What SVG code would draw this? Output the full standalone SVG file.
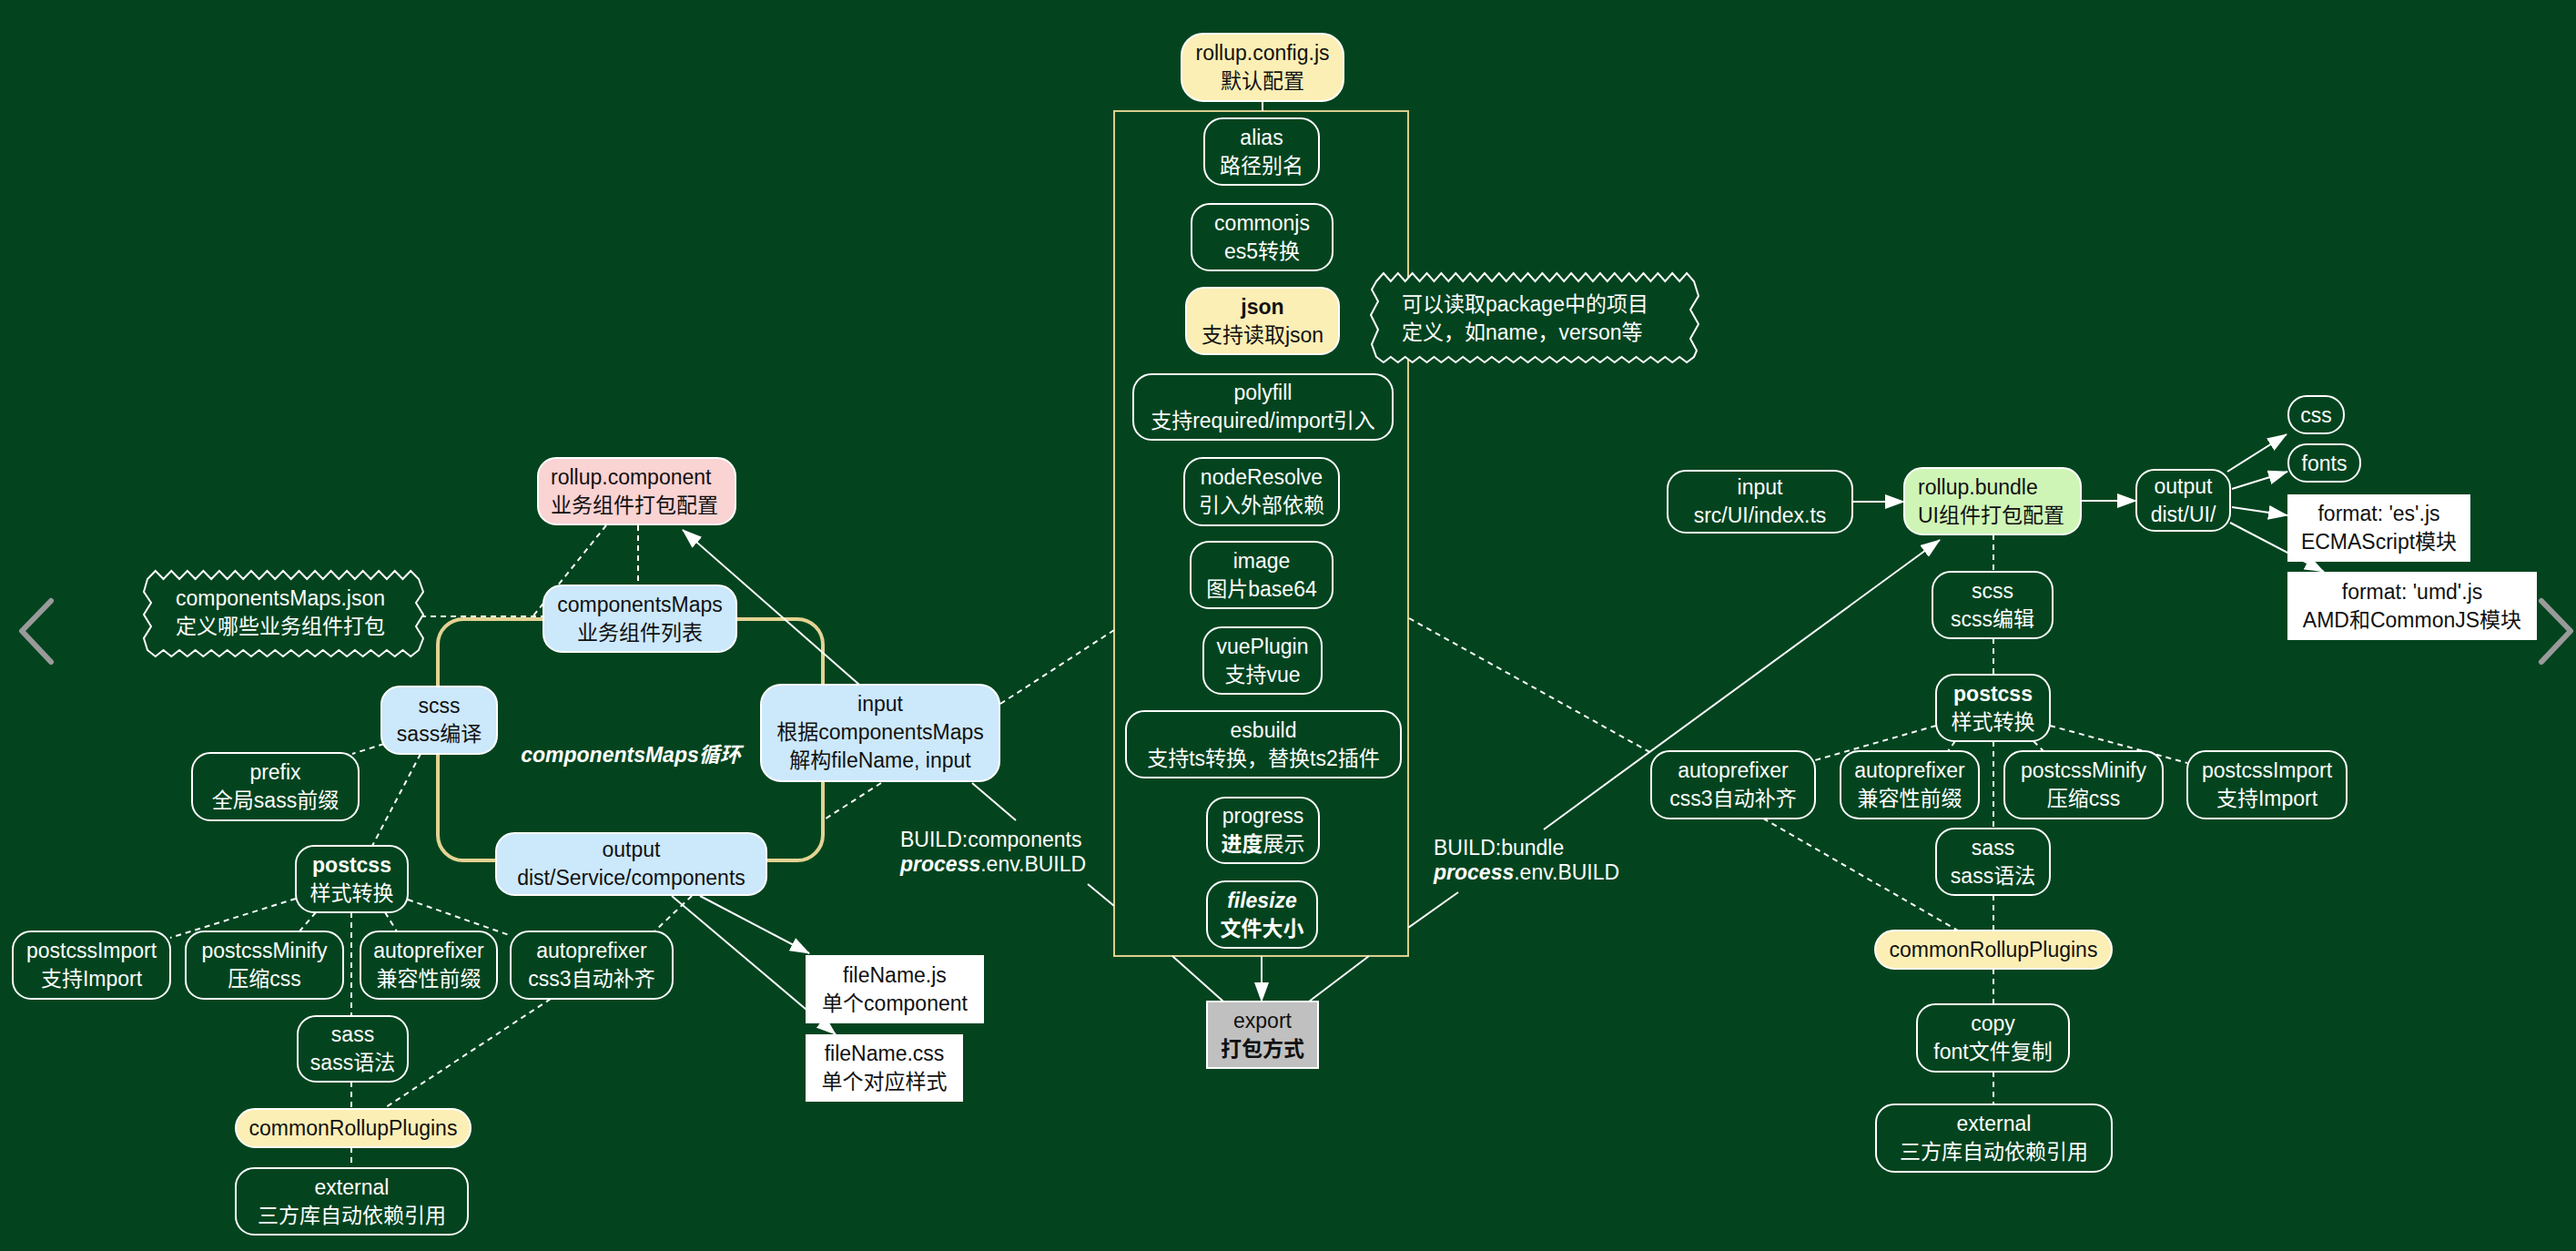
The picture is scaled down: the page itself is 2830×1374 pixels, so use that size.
<svg xmlns="http://www.w3.org/2000/svg" width="2830" height="1374" viewBox="0 0 2830 1374">
<defs>
<style>
text{font-family:"Liberation Sans","Noto Sans CJK SC",sans-serif;font-size:23px;text-anchor:middle}
.t{fill:#fff}
.k{fill:#111}
.st{text-anchor:start}
.bo{font-weight:bold}
.bi{font-weight:bold;font-style:italic}
.n{fill:#03441f;stroke:#fff;stroke-width:2}
.b{fill:#cce8fb;stroke:#fff;stroke-width:2}
.y{fill:#fbefb5;stroke:#fff;stroke-width:2}
.p{fill:#fad3d3;stroke:#fff;stroke-width:2}
.g{fill:#cff5b6;stroke:#fff;stroke-width:2}
.w{fill:#fff}
.gr{fill:#c0c0c0;stroke:#fff;stroke-width:2}
.s{stroke:#fff;stroke-width:2;fill:none}
.d{stroke:#fff;stroke-width:2;fill:none;stroke-dasharray:6 5}
.ar{marker-end:url(#ah)}
</style>
<marker id="ah" markerUnits="userSpaceOnUse" markerWidth="22" markerHeight="16" refX="21" refY="8" orient="auto"><path d="M0,0 L22,8 L0,16 z" fill="#fff"/></marker>
</defs>
<rect x="0" y="0" width="2830" height="1374" fill="#03441f"/>
<polyline points="56,660 24,693 56,727" fill="none" stroke="#9a9a9a" stroke-width="6" stroke-linecap="round" stroke-linejoin="round"/>
<polyline points="2792,660 2824,693 2792,727" fill="none" stroke="#9a9a9a" stroke-width="6" stroke-linecap="round" stroke-linejoin="round"/>
<g id="groups">
<rect x="481" y="680" width="423" height="265" rx="28" fill="none" stroke="#e3d393" stroke-width="4"/>
<rect x="1224" y="122" width="323" height="928" fill="none" stroke="#d9cf8f" stroke-width="2"/>
<text class="t bi" x="693" y="837">componentsMaps循环</text>
</g>
<g id="connectors">
<path class="s" d="M1387,111 V122"/>
<path class="s ar" d="M944,752 L750,582"/>
<path class="s" d="M1068,860 L1116,901 M1195,971 L1224,995"/>
<path class="s ar" d="M769,984 L889,1047"/>
<path class="s ar" d="M738,984 L918,1136"/>
<path class="s ar" d="M1386,1050 V1100"/>
<path class="s" d="M1288,1050 L1344,1100 M1504,1050 L1438,1100"/>
<path class="s" d="M1547,1019 L1602,980"/>
<path class="s ar" d="M1696,911 L2131,593"/>
<path class="s ar" d="M2035,551 H2092"/>
<path class="s ar" d="M2286,550 H2347"/>
<path class="s ar" d="M2447,518 L2512,477"/>
<path class="s ar" d="M2452,537 L2513,518"/>
<path class="s ar" d="M2452,557 L2513,566"/>
<path class="s ar" d="M2450,574 L2553,628"/>
<path class="d" d="M701,577 V643"/>
<path class="d" d="M666,577 L583,680"/>
<path class="d" d="M462,677 H597"/>
<path class="d" d="M1099,773 L1224,692"/>
<path class="d" d="M968,860 L904,901"/>
<path class="d" d="M760,984 L719,1023"/>
<path class="d" d="M422,817 L387,828"/>
<path class="d" d="M462,828 L409,929"/>
<path class="d" d="M325,987 L187,1030 M347,1002 L329,1023 M423,1002 L436,1023 M448,988 L562,1028"/>
<path class="d" d="M386,1002 V1116 M386,1188 V1218 M386,1260 V1283"/>
<path class="d" d="M605,1097 L421,1218"/>
<path class="d" d="M1548,679 L1816,828"/>
<path class="d" d="M2190,587 V628 M2190,701 V741 M2190,814 V910 M2190,983 V1022 M2190,1064 V1103 M2190,1177 V1213"/>
<path class="d" d="M2127,797 L1994,835 M2148,814 L2140,825 M2234,814 L2245,825 M2252,797 L2403,838"/>
<path class="d" d="M1937,899 L2151,1022"/>
</g>
<g id="label-build-components">
<text class="t st" x="989" y="930">BUILD:components</text>
<text class="t st" x="989" y="957"><tspan class="bi">process</tspan>.env.BUILD</text>
</g>
<g id="label-build-bundle">
<text class="t st" x="1575" y="939">BUILD:bundle</text>
<text class="t st" x="1575" y="966"><tspan class="bi">process</tspan>.env.BUILD</text>
</g>
<g id="rollup-component"><rect class="p" x="591" y="503" width="217" height="73" rx="20"/><text class="k st" x="605" y="531.5">rollup.component</text><text class="k st" x="605" y="562.5">业务组件打包配置</text></g>
<g id="componentsMaps-json"><path fill="#03441f" stroke="#fff" stroke-width="2" d="M162,636 l8.765,-9 l8.765,9 l8.765,-9 l8.765,9 l8.765,-9 l8.765,9 l8.765,-9 l8.765,9 l8.765,-9 l8.765,9 l8.765,-9 l8.765,9 l8.765,-9 l8.765,9 l8.765,-9 l8.765,9 l8.765,-9 l8.765,9 l8.765,-9 l8.765,9 l8.765,-9 l8.765,9 l8.765,-9 l8.765,9 l8.765,-9 l8.765,9 l8.765,-9 l8.765,9 l8.765,-9 l8.765,9 l8.765,-9 l8.765,9 l8.765,-9 l8.765,9 L465,650 L457,662 L465,675 L457,688 L465,701 L460,714 l-8.765,7 l-8.765,-7 l-8.765,7 l-8.765,-7 l-8.765,7 l-8.765,-7 l-8.765,7 l-8.765,-7 l-8.765,7 l-8.765,-7 l-8.765,7 l-8.765,-7 l-8.765,7 l-8.765,-7 l-8.765,7 l-8.765,-7 l-8.765,7 l-8.765,-7 l-8.765,7 l-8.765,-7 l-8.765,7 l-8.765,-7 l-8.765,7 l-8.765,-7 l-8.765,7 l-8.765,-7 l-8.765,7 l-8.765,-7 l-8.765,7 l-8.765,-7 l-8.765,7 l-8.765,-7 l-8.765,7 l-8.765,-7 L158,701 L166,688 L158,675 L166,662 L158,650 Z"/><text class="t" x="308" y="665">componentsMaps.json</text><text class="t" x="308" y="696">定义哪些业务组件打包</text></g>
<g id="componentsMaps"><rect class="b" x="597" y="643" width="212" height="73" rx="20"/><text class="k" x="703" y="671.5">componentsMaps</text><text class="k" x="703" y="702.5">业务组件列表</text></g>
<g id="scss-left"><rect class="b" x="419" y="754" width="127" height="74" rx="20"/><text class="k" x="482.5" y="783">scss</text><text class="k" x="482.5" y="814">sass编译</text></g>
<g id="prefix"><rect class="n" x="211" y="827" width="183" height="74" rx="20"/><text class="t" x="302.5" y="856">prefix</text><text class="t" x="302.5" y="887">全局sass前缀</text></g>
<g id="input-left"><rect class="b" x="836" y="752" width="262" height="106" rx="22"/><text class="k" x="967" y="781">input</text><text class="k" x="967" y="812">根据componentsMaps</text><text class="k" x="967" y="843">解构fileName, input</text></g>
<g id="output-left"><rect class="b" x="545" y="915" width="297" height="68" rx="20"/><text class="k" x="693.5" y="941">output</text><text class="k" x="693.5" y="972">dist/Service/components</text></g>
<g id="postcss-left"><rect class="n" x="325" y="929" width="123" height="73" rx="20"/><text class="t bo" x="386.5" y="957.5">postcss</text><text class="t" x="386.5" y="988.5">样式转换</text></g>
<g id="postcssImport-left"><rect class="n" x="14" y="1023" width="173" height="74" rx="20"/><text class="t" x="100.5" y="1052">postcssImport</text><text class="t" x="100.5" y="1083">支持Import</text></g>
<g id="postcssMinify-left"><rect class="n" x="204" y="1023" width="173" height="74" rx="20"/><text class="t" x="290.5" y="1052">postcssMinify</text><text class="t" x="290.5" y="1083">压缩css</text></g>
<g id="autoprefixer-compat-left"><rect class="n" x="396" y="1023" width="150" height="74" rx="20"/><text class="t" x="471" y="1052">autoprefixer</text><text class="t" x="471" y="1083">兼容性前缀</text></g>
<g id="autoprefixer-css3-left"><rect class="n" x="561" y="1023" width="178" height="74" rx="20"/><text class="t" x="650" y="1052">autoprefixer</text><text class="t" x="650" y="1083">css3自动补齐</text></g>
<g id="sass-left"><rect class="n" x="327" y="1116" width="121" height="72" rx="20"/><text class="t" x="387.5" y="1144">sass</text><text class="t" x="387.5" y="1175">sass语法</text></g>
<g id="commonRollupPlugins-left"><rect class="y" x="259" y="1218" width="258" height="42" rx="21"/><text class="k" x="388" y="1247">commonRollupPlugins</text></g>
<g id="external-left"><rect class="n" x="259" y="1283" width="255" height="73" rx="20"/><text class="t" x="386.5" y="1311.5">external</text><text class="t" x="386.5" y="1342.5">三方库自动依赖引用</text></g>
<g id="fileName-js"><rect class="w" x="885" y="1049" width="196" height="75"/><text class="k" x="983" y="1078.5">fileName.js</text><text class="k" x="983" y="1109.5">单个component</text></g>
<g id="fileName-css"><rect class="w" x="885" y="1136" width="173" height="74"/><text class="k" x="971.5" y="1165">fileName.css</text><text class="k" x="971.5" y="1196">单个对应样式</text></g>
<g id="rollup-config"><rect class="y" x="1298" y="37" width="178" height="74" rx="24"/><text class="k" x="1387" y="66">rollup.config.js</text><text class="k" x="1387" y="97">默认配置</text></g>
<g id="alias"><rect class="n" x="1323" y="130" width="126" height="73" rx="20"/><text class="t" x="1386" y="158.5">alias</text><text class="t" x="1386" y="189.5">路径别名</text></g>
<g id="commonjs"><rect class="n" x="1309" y="224" width="155" height="73" rx="20"/><text class="t" x="1386.5" y="252.5">commonjs</text><text class="t" x="1386.5" y="283.5">es5转换</text></g>
<g id="json"><rect class="y" x="1303" y="316" width="168" height="73" rx="20"/><text class="k bo" x="1387" y="344.5">json</text><text class="k" x="1387" y="375.5">支持读取json</text></g>
<g id="json-note"><path fill="#03441f" stroke="#fff" stroke-width="2" d="M1512,309 l7.932,-9 l7.932,9 l7.932,-9 l7.932,9 l7.932,-9 l7.932,9 l7.932,-9 l7.932,9 l7.932,-9 l7.932,9 l7.932,-9 l7.932,9 l7.932,-9 l7.932,9 l7.932,-9 l7.932,9 l7.932,-9 l7.932,9 l7.932,-9 l7.932,9 l7.932,-9 l7.932,9 l7.932,-9 l7.932,9 l7.932,-9 l7.932,9 l7.932,-9 l7.932,9 l7.932,-9 l7.932,9 l7.932,-9 l7.932,9 l7.932,-9 l7.932,9 l7.932,-9 l7.932,9 l7.932,-9 l7.932,9 l7.932,-9 l7.932,9 l7.932,-9 l7.932,9 l7.932,-9 l7.932,9 L1866,325 L1857,340 L1866,356 L1857,372 L1864,385 L1861,392 l-7.932,6 l-7.932,-6 l-7.932,6 l-7.932,-6 l-7.932,6 l-7.932,-6 l-7.932,6 l-7.932,-6 l-7.932,6 l-7.932,-6 l-7.932,6 l-7.932,-6 l-7.932,6 l-7.932,-6 l-7.932,6 l-7.932,-6 l-7.932,6 l-7.932,-6 l-7.932,6 l-7.932,-6 l-7.932,6 l-7.932,-6 l-7.932,6 l-7.932,-6 l-7.932,6 l-7.932,-6 l-7.932,6 l-7.932,-6 l-7.932,6 l-7.932,-6 l-7.932,6 l-7.932,-6 l-7.932,6 l-7.932,-6 l-7.932,6 l-7.932,-6 l-7.932,6 l-7.932,-6 l-7.932,6 l-7.932,-6 l-7.932,6 l-7.932,-6 l-7.932,6 l-7.932,-6 L1507,378 L1514,362 L1506,346 L1514,331 L1507,318 Z"/><text class="t st" x="1540" y="342">可以读取package中的项目</text><text class="t st" x="1540" y="373">定义，如name，verson等</text></g>
<g id="polyfill"><rect class="n" x="1245" y="411" width="285" height="72" rx="20"/><text class="t" x="1387.5" y="439">polyfill</text><text class="t" x="1387.5" y="470">支持required/import引入</text></g>
<g id="nodeResolve"><rect class="n" x="1301" y="503" width="170" height="74" rx="20"/><text class="t" x="1386" y="532">nodeResolve</text><text class="t" x="1386" y="563">引入外部依赖</text></g>
<g id="image"><rect class="n" x="1308" y="595" width="156" height="73" rx="20"/><text class="t" x="1386" y="623.5">image</text><text class="t" x="1386" y="654.5">图片base64</text></g>
<g id="vuePlugin"><rect class="n" x="1322" y="689" width="130" height="73" rx="20"/><text class="t" x="1387" y="717.5">vuePlugin</text><text class="t" x="1387" y="748.5">支持vue</text></g>
<g id="esbuild"><rect class="n" x="1237" y="781" width="302" height="73" rx="20"/><text class="t" x="1388" y="809.5">esbuild</text><text class="t" x="1388" y="840.5">支持ts转换，替换ts2插件</text></g>
<g id="progress"><rect class="n" x="1326" y="876" width="123" height="72" rx="20"/><text class="t" x="1387.5" y="904">progress</text><text class="t" x="1387.5" y="935"><tspan class="bo">进度</tspan>展示</text></g>
<g id="filesize"><rect class="n" x="1326" y="968" width="121" height="73" rx="20"/><text class="t bi" x="1386.5" y="996.5">filesize</text><text class="t bo" x="1386.5" y="1027.5">文件大小</text></g>
<g id="export"><rect class="gr" x="1326" y="1100" width="122" height="73"/><text class="k" x="1387" y="1128.5">export</text><text class="k bo" x="1387" y="1159.5">打包方式</text></g>
<g id="input-right"><rect class="n" x="1832" y="517" width="203" height="68" rx="20"/><text class="t" x="1933.5" y="543">input</text><text class="t" x="1933.5" y="574">src/UI/index.ts</text></g>
<g id="rollup-bundle"><rect class="g" x="2092" y="514" width="194" height="73" rx="20"/><text class="k st" x="2107" y="542.5">rollup.bundle</text><text class="k st" x="2107" y="573.5">UI组件打包配置</text></g>
<g id="output-right"><rect class="n" x="2347" y="516" width="103" height="67" rx="20"/><text class="t" x="2398.5" y="541.5">output</text><text class="t" x="2398.5" y="572.5">dist/UI/</text></g>
<g id="css"><rect class="n" x="2514" y="435" width="61" height="41" rx="20"/><text class="t" x="2544.5" y="463.5">css</text></g>
<g id="fonts"><rect class="n" x="2514" y="488" width="79" height="41" rx="20"/><text class="t" x="2553.5" y="516.5">fonts</text></g>
<g id="format-es"><rect class="w" x="2513" y="543" width="201" height="74"/><text class="k" x="2613.5" y="572">format: 'es'.js</text><text class="k" x="2613.5" y="603">ECMAScript模块</text></g>
<g id="format-umd"><rect class="w" x="2513" y="628" width="274" height="75"/><text class="k" x="2650" y="657.5">format: 'umd'.js</text><text class="k" x="2650" y="688.5">AMD和CommonJS模块</text></g>
<g id="scss-right"><rect class="n" x="2123" y="628" width="132" height="73" rx="20"/><text class="t" x="2189" y="656.5">scss</text><text class="t" x="2189" y="687.5">scss编辑</text></g>
<g id="postcss-right"><rect class="n" x="2127" y="741" width="125" height="73" rx="20"/><text class="t bo" x="2189.5" y="769.5">postcss</text><text class="t" x="2189.5" y="800.5">样式转换</text></g>
<g id="autoprefixer-css3-right"><rect class="n" x="1814" y="825" width="180" height="74" rx="20"/><text class="t" x="1904" y="854">autoprefixer</text><text class="t" x="1904" y="885">css3自动补齐</text></g>
<g id="autoprefixer-compat-right"><rect class="n" x="2022" y="825" width="152" height="74" rx="20"/><text class="t" x="2098" y="854">autoprefixer</text><text class="t" x="2098" y="885">兼容性前缀</text></g>
<g id="postcssMinify-right"><rect class="n" x="2202" y="825" width="174" height="74" rx="20"/><text class="t" x="2289" y="854">postcssMinify</text><text class="t" x="2289" y="885">压缩css</text></g>
<g id="postcssImport-right"><rect class="n" x="2403" y="825" width="175" height="74" rx="20"/><text class="t" x="2490.5" y="854">postcssImport</text><text class="t" x="2490.5" y="885">支持Import</text></g>
<g id="sass-right"><rect class="n" x="2127" y="910" width="125" height="73" rx="20"/><text class="t" x="2189.5" y="938.5">sass</text><text class="t" x="2189.5" y="969.5">sass语法</text></g>
<g id="commonRollupPlugins-right"><rect class="y" x="2060" y="1022" width="260" height="42" rx="21"/><text class="k" x="2190" y="1051">commonRollupPlugins</text></g>
<g id="copy"><rect class="n" x="2106" y="1103" width="167" height="74" rx="20"/><text class="t" x="2189.5" y="1132">copy</text><text class="t" x="2189.5" y="1163">font文件复制</text></g>
<g id="external-right"><rect class="n" x="2061" y="1213" width="259" height="74" rx="20"/><text class="t" x="2190.5" y="1242">external</text><text class="t" x="2190.5" y="1273">三方库自动依赖引用</text></g>
</svg>
